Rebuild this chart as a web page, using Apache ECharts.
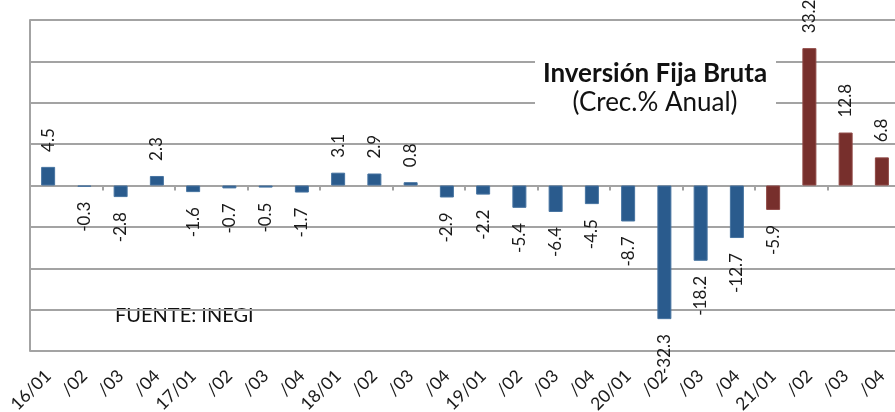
<!DOCTYPE html>
<html>
<head>
<meta charset="utf-8">
<script src="https://cdn.jsdelivr.net/npm/echarts@6/dist/echarts.min.js"></script>
<style>html,body{margin:0;padding:0;background:#fff}#c{width:895px;height:412px}</style>
</head>
<body>
<div id="c"></div>
<script>
const categories = ['16/01','/02','/03','/04','17/01','/02','/03','/04','18/01','/02','/03','/04','19/01','/02','/03','/04','20/01','/02','/03','/04','21/01','/02','/03','/04'];
const values = [4.5,-0.3,-2.8,2.3,-1.6,-0.7,-0.5,-1.7,3.1,2.9,0.8,-2.9,-2.2,-5.4,-6.4,-4.5,-8.7,-32.3,-18.2,-12.7,-5.9,33.2,12.8,6.8];
const forecastFrom = 20; // index where maroon bars start
const yTicks = {min:-40, max:40, interval:10};

const BLUE = '#2a5b8d', BLUE_B = '#4673a0';
const RED = '#772f2c', RED_B = '#8e4744';
const GRID = '#a3a3a3';
const FONT = 'Lato, Carlito, Calibri, sans-serif';

const data = values.map((v,i)=>{
  const red = i >= forecastFrom;
  return {
    value: v,
    itemStyle: {color: red?RED:BLUE, borderColor: red?RED_B:BLUE_B, borderWidth: 1},
    label: v >= 0
      ? {position:'top', align:'left', verticalAlign:'middle'}
      : {position:'bottom', align:'right', verticalAlign:'middle'}
  };
});

const chart = echarts.init(document.getElementById('c'), null, {renderer:'canvas'});
chart.setOption({
  animation:false,
  backgroundColor:'#fff',
  grid:{left:30, right:-5, top:20, bottom:61, containLabel:false, outerBoundsMode:'none'},
  xAxis:[
    {type:'category', data:categories, position:'bottom',
     axisLine:{show:false, onZero:false}, axisTick:{show:false},
     axisLabel:{rotate:45, margin:22, fontSize:17.5, color:'#1a1a1a', fontFamily:FONT, interval:0}},
    {type:'category', data:categories, position:'bottom',
     axisLine:{show:true, onZero:true, lineStyle:{color:GRID, width:2}},
     axisTick:{show:true, length:5, lineStyle:{color:GRID, width:2}},
     axisLabel:{show:false}}
  ],
  yAxis:{type:'value', min:yTicks.min, max:yTicks.max, interval:yTicks.interval,
    axisLine:{show:true, lineStyle:{color:GRID, width:2}}, axisTick:{show:false}, axisLabel:{show:false},
    splitLine:{show:true, lineStyle:{color:GRID, width:2}}},
  series:[{type:'bar', xAxisIndex:0, data:data, barWidth:14,
    label:{show:true, rotate:90, distance:15, fontSize:17, color:'#1a1a1a', fontFamily:FONT,
      formatter:p=>p.value.toFixed(1)}}],
  graphic:[
    {type:'rect', z:100, shape:{x:535, y:50, width:241, height:72}, style:{fill:'#fff'}},
    {type:'text', z:101, x:655, y:74, style:{text:'Inversión Fija Bruta', font:'bold 26px '+FONT, fill:'#111', textAlign:'center', textVerticalAlign:'middle'}},
    {type:'text', z:101, x:655, y:103, style:{text:'(Crec.% Anual)', font:'26px '+FONT, fill:'#111', textAlign:'center', textVerticalAlign:'middle'}},
    {type:'text', z:-1, x:115, y:316, style:{text:'FUENTE: INEGI', font:'20px '+FONT, fill:'#111', textAlign:'left', textVerticalAlign:'middle'}}
  ]
});
</script>
</body>
</html>
